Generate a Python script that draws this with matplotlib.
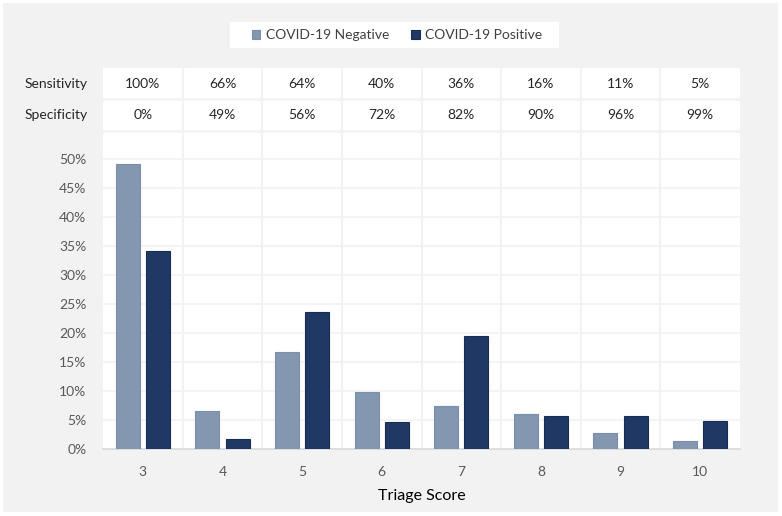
import numpy as np
import matplotlib.pyplot as plt
from matplotlib.patches import Rectangle

# triage scores and share of patients (%) per group
scores = [3, 4, 5, 6, 7, 8, 9, 10]
negative = [49.1, 6.6, 16.7, 9.8, 7.5, 6.1, 2.8, 1.3]
positive = [34.1, 1.7, 23.6, 4.7, 19.4, 5.7, 5.7, 4.8]
sensitivity = ['100%', '66%', '64%', '40%', '36%', '16%', '11%', '5%']
specificity = ['0%', '49%', '56%', '72%', '82%', '90%', '96%', '99%']

neg_color = '#8497b0'
pos_color = '#203864'
grid_color = '#f2f2f2'
plt.rcParams['font.family'] = ['Lato', 'DejaVu Sans']

W, H = 782, 516
fig = plt.figure(figsize=(W / 100, H / 100), dpi=100, facecolor='white')
# gray panel behind everything
fig.patches.append(Rectangle((3 / W, 4 / H), 775 / W, 509 / H, transform=fig.transFigure,
                             facecolor='#f2f2f2', edgecolor='none', zorder=-10))
# white box for the legend
fig.patches.append(Rectangle((230 / W, 1 - 48 / H), 329 / W, 26 / H, transform=fig.transFigure,
                             facecolor='white', edgecolor='none', zorder=-5))

# axes box in pixels: left 103, right 740, bottom 449, top 68
ax = fig.add_axes([103 / W, (H - 449) / H, 637 / W, (449 - 68) / H])
ax.set_facecolor('white')

x = np.arange(len(scores))
w = 0.3
off = 0.19
ax.bar(x - off, negative, w, color=neg_color, edgecolor='#7a8ea8', linewidth=0.8,
       label='COVID-19 Negative', zorder=3)
ax.bar(x + off, positive, w, color=pos_color, edgecolor='#182d55', linewidth=0.8,
       label='COVID-19 Positive', zorder=3)

ymax = (449 - 68) / 5.8
ax.set_ylim(0, ymax)
ax.set_xlim(-0.5, len(scores) - 0.5)
ax.set_yticks(range(0, 51, 5))
ax.set_yticklabels([f'{v}%' for v in range(0, 51, 5)])
ax.set_xticks(x)
ax.set_xticklabels([str(s) for s in scores])
ax.tick_params(axis='both', length=0, labelsize=10, colors='#595959')
ax.tick_params(axis='y', pad=12)
ax.tick_params(axis='x', pad=12)

# grid: horizontal at ticks, vertical between categories (through table too)
for v in range(5, 51, 5):
    ax.axhline(v, color=grid_color, lw=1.2, zorder=1)
for b in np.arange(0.5, len(scores) - 0.5, 1):
    ax.axvline(b, color=grid_color, lw=1.5, zorder=1)
# table row separators
for v in [(449 - 98.5) / 5.8, (449 - 131) / 5.8]:
    ax.axhline(v, color=grid_color, lw=1.8, zorder=1)

for s in ['top', 'right', 'left']:
    ax.spines[s].set_visible(False)
ax.spines['bottom'].set_color('#d9d9d9')
ax.spines['bottom'].set_linewidth(1.2)

# sensitivity / specificity table rows
sens_y = (449 - 84) / 5.8
spec_y = (449 - 115) / 5.8
for i in range(len(scores)):
    ax.text(x[i], sens_y, sensitivity[i], ha='center', va='center', fontsize=10, color='#262626')
    ax.text(x[i], spec_y, specificity[i], ha='center', va='center', fontsize=10, color='#262626')
fig.text(56 / W, 1 - 84 / H, 'Sensitivity', ha='center', va='center', fontsize=10, color='#262626')
fig.text(56 / W, 1 - 115 / H, 'Specificity', ha='center', va='center', fontsize=10, color='#262626')

ax.set_xlabel('Triage Score', fontsize=11.5, color='black', labelpad=8)

leg = fig.legend(loc='center', bbox_to_anchor=(397 / W, 1 - 35 / H), ncol=2, frameon=False,
                 fontsize=10, handlelength=0.6, handleheight=0.6, handletextpad=0.4,
                 columnspacing=1.6)
for t in leg.get_texts():
    t.set_color('#404040')

fig.savefig('out.png', dpi=100, facecolor='white')
